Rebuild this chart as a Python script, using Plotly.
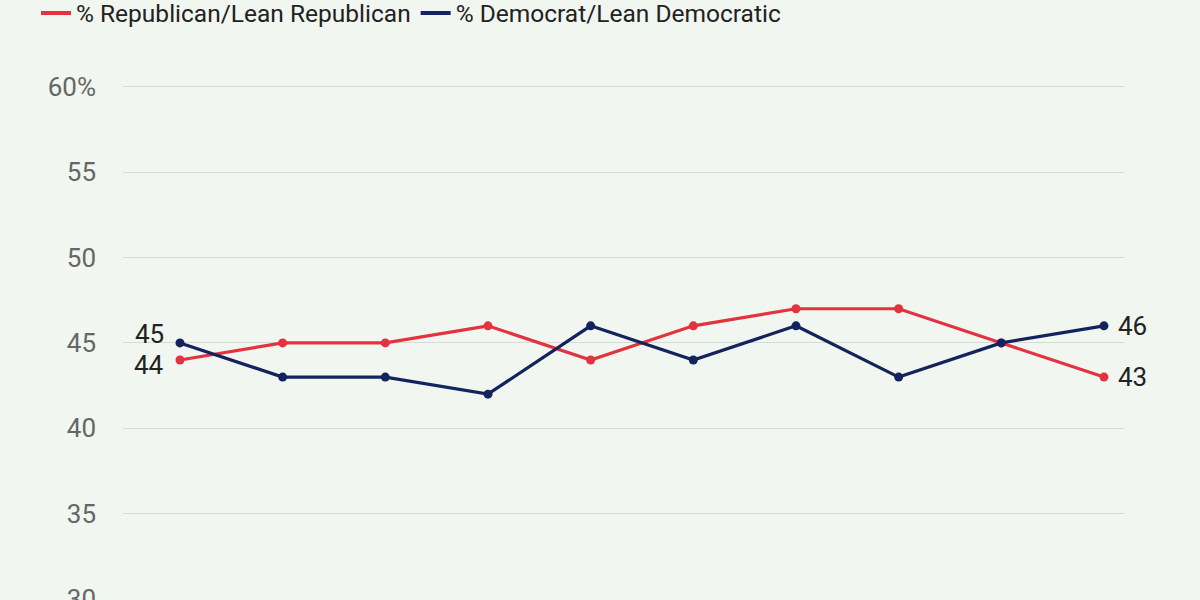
import plotly.graph_objects as go

periods = list(range(10))
rep_values = [44, 45, 45, 46, 44, 46, 47, 47, 45, 43]
dem_values = [45, 43, 43, 42, 46, 44, 46, 43, 45, 46]
y_ticks = [30, 35, 40, 45, 50, 55, 60]
y_tick_labels = ["30", "35", "40", "45", "50", "55", "60%"]

RED = "#e2333f"
NAVY = "#13235e"
BG = "#f1f6f0"
FONT = "Roboto"

fig = go.Figure()
fig.add_trace(go.Scatter(x=periods, y=rep_values, mode="lines+markers",
                         line=dict(color=RED, width=3.2), marker=dict(size=9, color=RED),
                         showlegend=False, hoverinfo="y"))
fig.add_trace(go.Scatter(x=periods, y=dem_values, mode="lines+markers",
                         line=dict(color=NAVY, width=3.2), marker=dict(size=9, color=NAVY),
                         showlegend=False, hoverinfo="y"))
# legend entries
fig.add_trace(go.Scatter(x=[None], y=[None], mode="lines", name="% Republican/Lean Republican",
                         line=dict(color=RED, width=4)))
fig.add_trace(go.Scatter(x=[None], y=[None], mode="lines", name="% Democrat/Lean Democratic",
                         line=dict(color=NAVY, width=4)))

LBL = dict(size=26, color="#222")
fig.add_annotation(x=periods[0], y=dem_values[0], text=str(dem_values[0]), showarrow=False,
                   xanchor="right", xshift=-14, yshift=9, font=LBL)
fig.add_annotation(x=periods[0], y=rep_values[0], text=str(rep_values[0]), showarrow=False,
                   xanchor="right", xshift=-14, yshift=-5, font=LBL)
fig.add_annotation(x=periods[-1], y=dem_values[-1], text=str(dem_values[-1]), showarrow=False,
                   xanchor="left", xshift=12, font=LBL)
fig.add_annotation(x=periods[-1], y=rep_values[-1], text=str(rep_values[-1]), showarrow=False,
                   xanchor="left", xshift=12, font=LBL)

fig.update_layout(
    width=1200, height=600,
    paper_bgcolor=BG, plot_bgcolor=BG,
    margin=dict(l=123, r=76, t=85, b=0, autoexpand=False),
    font=dict(family=FONT, color="#222"),
    legend=dict(orientation="h", xref="container", yref="paper", x=0.03, y=1.1398,
                xanchor="left", yanchor="middle", font=dict(size=24.5, color="#222"),
                bgcolor="rgba(0,0,0,0)", itemwidth=30, traceorder="normal"),
    xaxis=dict(range=[-0.555, 9.195], showgrid=False, zeroline=False, showticklabels=False,
               showline=False, ticks="", automargin=False),
    yaxis=dict(range=[29.95, 60.1], tickvals=y_ticks, ticktext=y_tick_labels, showgrid=True,
               gridcolor="#d3dcd6", gridwidth=1, zeroline=False, showline=False,
               tickfont=dict(size=26, color="#666"), ticks="", ticklabelstandoff=26,
               ticklabeloverflow="allow", automargin=False),
)
fig.write_html("out.html", config={"displayModeBar": False},
               post_script="document.body.style.margin='0';document.body.style.overflow='hidden';")
